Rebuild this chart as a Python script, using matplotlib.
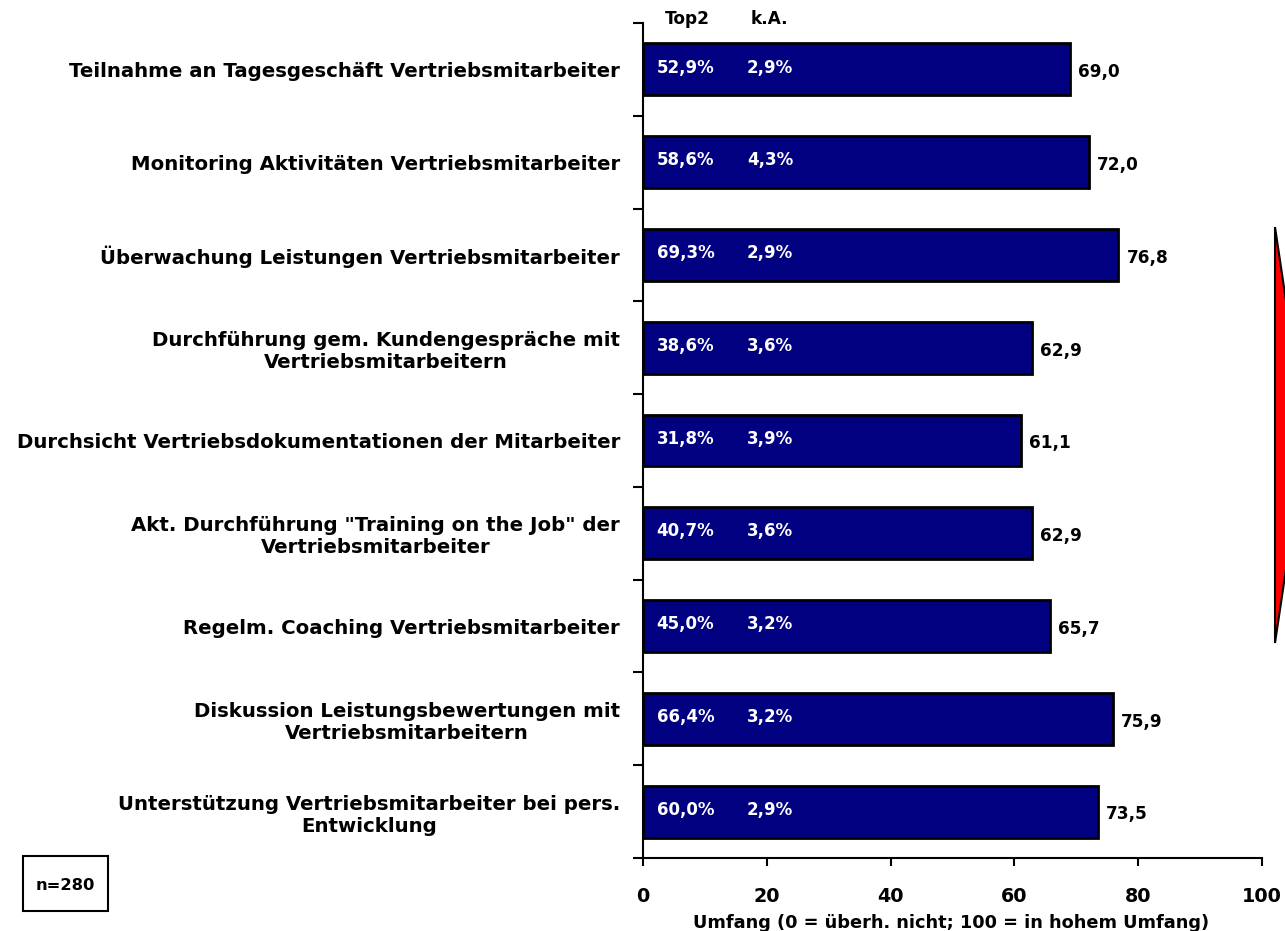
import numpy as np
import matplotlib.pyplot as plt
from matplotlib.patches import Polygon, Rectangle

plt.rcParams['font.family'] = ['DejaVu Sans']
plt.rcParams['font.weight'] = 'bold'

# Daten
kategorien = [
    'Teilnahme an Tagesgeschäft Vertriebsmitarbeiter',
    'Monitoring Aktivitäten Vertriebsmitarbeiter',
    'Überwachung Leistungen Vertriebsmitarbeiter',
    'Durchführung gem. Kundengespräche mit\nVertriebsmitarbeitern',
    'Durchsicht Vertriebsdokumentationen der Mitarbeiter',
    'Akt. Durchführung "Training on the Job" der\nVertriebsmitarbeiter',
    'Regelm. Coaching Vertriebsmitarbeiter',
    'Diskussion Leistungsbewertungen mit\nVertriebsmitarbeitern',
    'Unterstützung Vertriebsmitarbeiter bei pers.\nEntwicklung',
]
werte = [69.0, 72.0, 76.8, 62.9, 61.1, 62.9, 65.7, 75.9, 73.5]
top2 = [52.9, 58.6, 69.3, 38.6, 31.8, 40.7, 45.0, 66.4, 60.0]
ka = [2.9, 4.3, 2.9, 3.6, 3.9, 3.6, 3.2, 3.2, 2.9]
x_ticks = [0, 20, 40, 60, 80, 100]


def de(v, nachkomma=1):
    return f'{v:.{nachkomma}f}'.replace('.', ',')


fig = plt.figure(figsize=(12.85, 9.31), dpi=100)
ax = fig.add_axes([643 / 1285, 1 - 858 / 931, 619 / 1285, 835 / 931])

y = np.arange(len(kategorien))
ax.barh(y, werte, height=0.56, color='#000080', edgecolor='black', linewidth=2)

ax.set_xlim(0, 100)
ax.set_ylim(len(kategorien) - 0.5, -0.5)

# Achsen / Ticks
for s in ['top', 'right']:
    ax.spines[s].set_visible(False)
ax.spines['left'].set_linewidth(1.5)
ax.spines['bottom'].set_linewidth(1.5)

ax.set_xticks(x_ticks)
ax.set_xticklabels([str(t) for t in x_ticks], fontsize=13.8, fontweight='bold')
ax.tick_params(axis='x', direction='out', length=6, width=1.5, pad=15)

ax.set_yticks(y)
ax.set_yticklabels(kategorien, fontsize=14.2, fontweight='bold')
for lab in ax.get_yticklabels():
    lab.set_multialignment('center')
ax.tick_params(axis='y', which='major', length=0, pad=16.5)
ax.set_yticks(np.arange(len(kategorien) + 1) - 0.5, minor=True)
ax.tick_params(axis='y', which='minor', direction='out', length=7, width=1.5)

# Beschriftungen
for i in range(len(kategorien)):
    ax.text(werte[i] + 1.3, i + 0.03, de(werte[i]), va='center', ha='left',
            fontsize=12.2, fontweight='bold', color='black')
    ax.text(2.2, i - 0.02, de(top2[i]) + '%', va='center', ha='left',
            fontsize=12, fontweight='bold', color='white')
    ax.text(16.8, i - 0.02, de(ka[i]) + '%', va='center', ha='left',
            fontsize=12, fontweight='bold', color='white')

ax.text(7.1, -0.54, 'Top2', ha='center', va='center', fontsize=12.2,
        fontweight='bold', clip_on=False)
ax.text(20.5, -0.54, 'k.A.', ha='center', va='center', fontsize=12.2,
        fontweight='bold', clip_on=False)

fig.text(951 / 1285, 1 - 923 / 931, 'Umfang (0 = überh. nicht; 100 = in hohem Umfang)',
         ha='center', va='center', fontsize=12.8, fontweight='bold')

# n-Box
fig.patches.append(Rectangle((23 / 1285, 1 - 911 / 931), 85 / 1285, 55 / 931,
                             transform=fig.transFigure, facecolor='white',
                             edgecolor='black', linewidth=1.5))
fig.text(65 / 1285, 1 - 885 / 931, 'n=280', ha='center', va='center',
         fontsize=11.8, fontweight='bold')

# roter Pfeil rechts
pfeil = [(1275 / 1285, 1 - 227 / 931), (1306 / 1285, 1 - 435 / 931),
         (1275 / 1285, 1 - 643 / 931)]
fig.patches.append(Polygon(pfeil, closed=True, transform=fig.transFigure,
                           facecolor='red', edgecolor='black', linewidth=1.5))

fig.savefig('out.png', dpi=100)
